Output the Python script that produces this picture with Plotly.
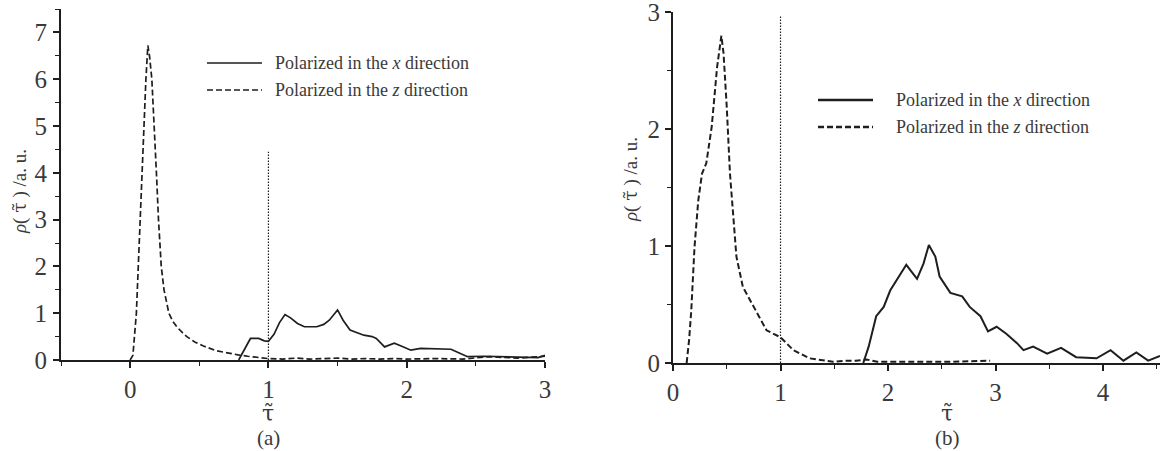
import plotly.graph_objects as go

# ---------------- data ----------------
# Panel (a)
a_z_x = [0.0, 0.02, 0.045, 0.065, 0.085, 0.10, 0.114, 0.128, 0.14, 0.157, 0.175, 0.19, 0.205, 0.225,
         0.245, 0.28, 0.31, 0.34, 0.38, 0.41, 0.47, 0.53, 0.62, 0.70, 0.78, 0.85, 0.92, 1.0, 1.1, 1.2,
         1.3, 1.4, 1.5, 1.6, 1.7, 1.8, 1.9, 2.0, 2.2, 2.4, 2.6, 2.8, 3.0]
a_z_y = [0.0, 0.1, 1.0, 2.5, 4.0, 5.3, 6.0, 6.72, 6.5, 6.0, 5.0, 4.0, 3.0, 2.0,
         1.5, 1.0, 0.82, 0.7, 0.58, 0.5, 0.38, 0.3, 0.2, 0.15, 0.11, 0.08, 0.05, 0.03, 0.02, 0.04,
         0.02, 0.03, 0.04, 0.02, 0.03, 0.02, 0.03, 0.02, 0.03, 0.02, 0.07, 0.04, 0.08]

a_x_x = [0.785, 0.83, 0.87, 0.93, 0.97, 1.0, 1.04, 1.08, 1.12, 1.16, 1.21, 1.26, 1.35, 1.40, 1.44,
         1.50, 1.54, 1.59, 1.64, 1.69, 1.75, 1.78, 1.84, 1.91, 1.96, 2.03, 2.10, 2.20, 2.32, 2.38,
         2.44, 2.56, 2.70, 2.85, 2.95, 3.0]
a_x_y = [0.0, 0.25, 0.46, 0.46, 0.41, 0.40, 0.55, 0.80, 0.97, 0.90, 0.78, 0.71, 0.71, 0.76, 0.85,
         1.07, 0.85, 0.64, 0.58, 0.53, 0.50, 0.46, 0.28, 0.36, 0.30, 0.21, 0.25, 0.24, 0.23, 0.15,
         0.07, 0.08, 0.07, 0.06, 0.05, 0.1]

a_ref_x = [1.0, 1.0]
a_ref_y = [0.0, 4.45]

# Panel (b)
b_z_x = [0.127, 0.15, 0.17, 0.20, 0.235, 0.27, 0.31, 0.36, 0.41, 0.45, 0.47, 0.50, 0.53, 0.56, 0.59,
         0.65, 0.75, 0.87, 1.0, 1.12, 1.27, 1.49, 1.6, 1.7, 1.8, 1.9, 2.0, 2.3, 2.6, 2.95]
b_z_y = [0.0, 0.2, 0.45, 0.99, 1.39, 1.62, 1.71, 2.02, 2.53, 2.80, 2.65, 2.19, 1.62, 1.22, 0.91,
         0.65, 0.48, 0.28, 0.22, 0.11, 0.04, 0.01, 0.02, 0.02, 0.03, 0.01, 0.01, 0.01, 0.01, 0.02]

b_x_x = [1.77, 1.82, 1.89, 1.96, 2.02, 2.08, 2.17, 2.22, 2.27, 2.33, 2.38, 2.44, 2.48, 2.58, 2.64,
         2.69, 2.76, 2.86, 2.93, 3.01, 3.10, 3.20, 3.26, 3.35, 3.48, 3.61, 3.75, 3.94, 4.07, 4.19,
         4.31, 4.42, 4.53]
b_x_y = [0.0, 0.14, 0.40, 0.48, 0.62, 0.71, 0.84, 0.78, 0.72, 0.85, 1.01, 0.91, 0.74, 0.60, 0.58,
         0.57, 0.48, 0.40, 0.27, 0.31, 0.25, 0.17, 0.11, 0.14, 0.08, 0.13, 0.05, 0.04, 0.11, 0.02,
         0.09, 0.02, 0.06]

b_ref_x = [1.0, 1.0]
b_ref_y = [0.0, 2.97]

a_xticks = [0, 1, 2, 3]
a_yticks = [0, 1, 2, 3, 4, 5, 6, 7]
b_xticks = [0, 1, 2, 3, 4]
b_yticks = [0, 1, 2, 3]

legend_labels = ["Polarized in the <i>x</i> direction", "Polarized in the <i>z</i> direction"]
panel_labels = ["(a)", "(b)"]

# ---------------- styling ----------------
W, H = 1160, 451
LINE = "#1e1e1e"
TXT = "#3a3a3a"
FONT = "Liberation Serif"
DASH = "6px,3px"
DOT = "1.5px,1.5px"
TAU = "<span style=\"font-family:'DejaVu Serif'\">τ\u0303</span>"

def px(x):
    return x / W

def py(y):
    return 1 - y / H

fig = go.Figure()

fig.add_trace(go.Scatter(x=a_z_x, y=a_z_y, mode="lines", xaxis="x", yaxis="y",
                         line=dict(color=LINE, width=1.7, dash=DASH), showlegend=False))
fig.add_trace(go.Scatter(x=a_x_x, y=a_x_y, mode="lines", xaxis="x", yaxis="y",
                         line=dict(color=LINE, width=1.7), showlegend=False))
fig.add_trace(go.Scatter(x=a_ref_x, y=a_ref_y, mode="lines", xaxis="x", yaxis="y",
                         line=dict(color=LINE, width=1.2, dash=DOT), showlegend=False))

fig.add_trace(go.Scatter(x=b_z_x, y=b_z_y, mode="lines", xaxis="x2", yaxis="y2",
                         line=dict(color=LINE, width=2, dash=DASH), showlegend=False))
fig.add_trace(go.Scatter(x=b_x_x, y=b_x_y, mode="lines", xaxis="x2", yaxis="y2",
                         line=dict(color=LINE, width=2), showlegend=False))
fig.add_trace(go.Scatter(x=b_ref_x, y=b_ref_y, mode="lines", xaxis="x2", yaxis="y2",
                         line=dict(color=LINE, width=1.2, dash=DOT), showlegend=False))

axis_common = dict(showline=True, linecolor=LINE, linewidth=2, showgrid=False, zeroline=False,
                   ticks="outside", ticklen=6, tickwidth=1.5, tickcolor=LINE,
                   ticklabeloverflow="allow",
                   tickfont=dict(family=FONT, size=25, color=TXT),
                   minor=dict(ticks="outside", ticklen=4, tickwidth=1.2, tickcolor=LINE, dtick=0.5))

fig.update_layout(
    width=W, height=H, autosize=False,
    margin=dict(l=0, r=0, t=0, b=0, autoexpand=False),
    paper_bgcolor="white", plot_bgcolor="white",
    xaxis=dict(domain=[px(61), px(545)], range=[-0.5, 3.0], tickvals=a_xticks,
               anchor="y", **axis_common),
    yaxis=dict(domain=[py(360), py(9)], range=[0, 7.5], tickvals=a_yticks,
               anchor="x", ticklabelstandoff=1, **axis_common),
    xaxis2=dict(domain=[px(673), 1.0], range=[0, 4.53], tickvals=b_xticks,
                anchor="y2", **axis_common),
    yaxis2=dict(domain=[py(363), py(11.7)], range=[0, 3.005], tickvals=b_yticks,
                anchor="x2", **axis_common),
)

anns = []
shapes = []
# legends (manual)
for (x0, x1, tx, ys, w) in [(207, 262, 273, [63, 90], 1.6), (818, 873, 894, [100, 127], 2.4)]:
    for i, (lab, dash) in enumerate(zip(legend_labels, ["solid", DASH])):
        shapes.append(dict(type="line", xref="paper", yref="paper",
                           x0=px(x0), x1=px(x1), y0=py(ys[i]), y1=py(ys[i]),
                           line=dict(color=LINE, width=w, dash=dash)))
        anns.append(dict(text=lab, xref="paper", yref="paper", x=px(tx), y=py(ys[i]),
                         xanchor="left", yanchor="middle", showarrow=False,
                         font=dict(family=FONT, size=18, color=TXT)))

ytitle = "<i>ρ</i>( " + TAU + " ) /a. u."
anns.append(dict(text=ytitle, xref="paper", yref="paper", x=px(19), y=py(192), textangle=-90,
                 xanchor="center", yanchor="middle", showarrow=False,
                 font=dict(family=FONT, size=19, color=TXT)))
anns.append(dict(text=ytitle, xref="paper", yref="paper", x=px(630), y=py(180), textangle=-90,
                 xanchor="center", yanchor="middle", showarrow=False,
                 font=dict(family=FONT, size=19, color=TXT)))
for cx, lab in zip([268, 947], panel_labels):
    anns.append(dict(text=TAU, xref="paper", yref="paper", x=px(cx), y=py(413),
                     xanchor="center", yanchor="middle", showarrow=False,
                     font=dict(family=FONT, size=22, color=TXT)))
    anns.append(dict(text=lab, xref="paper", yref="paper", x=px(cx), y=py(438),
                     xanchor="center", yanchor="middle", showarrow=False,
                     font=dict(family=FONT, size=21, color=TXT)))

fig.update_layout(annotations=anns, shapes=shapes)

fig.write_html("out.html")
